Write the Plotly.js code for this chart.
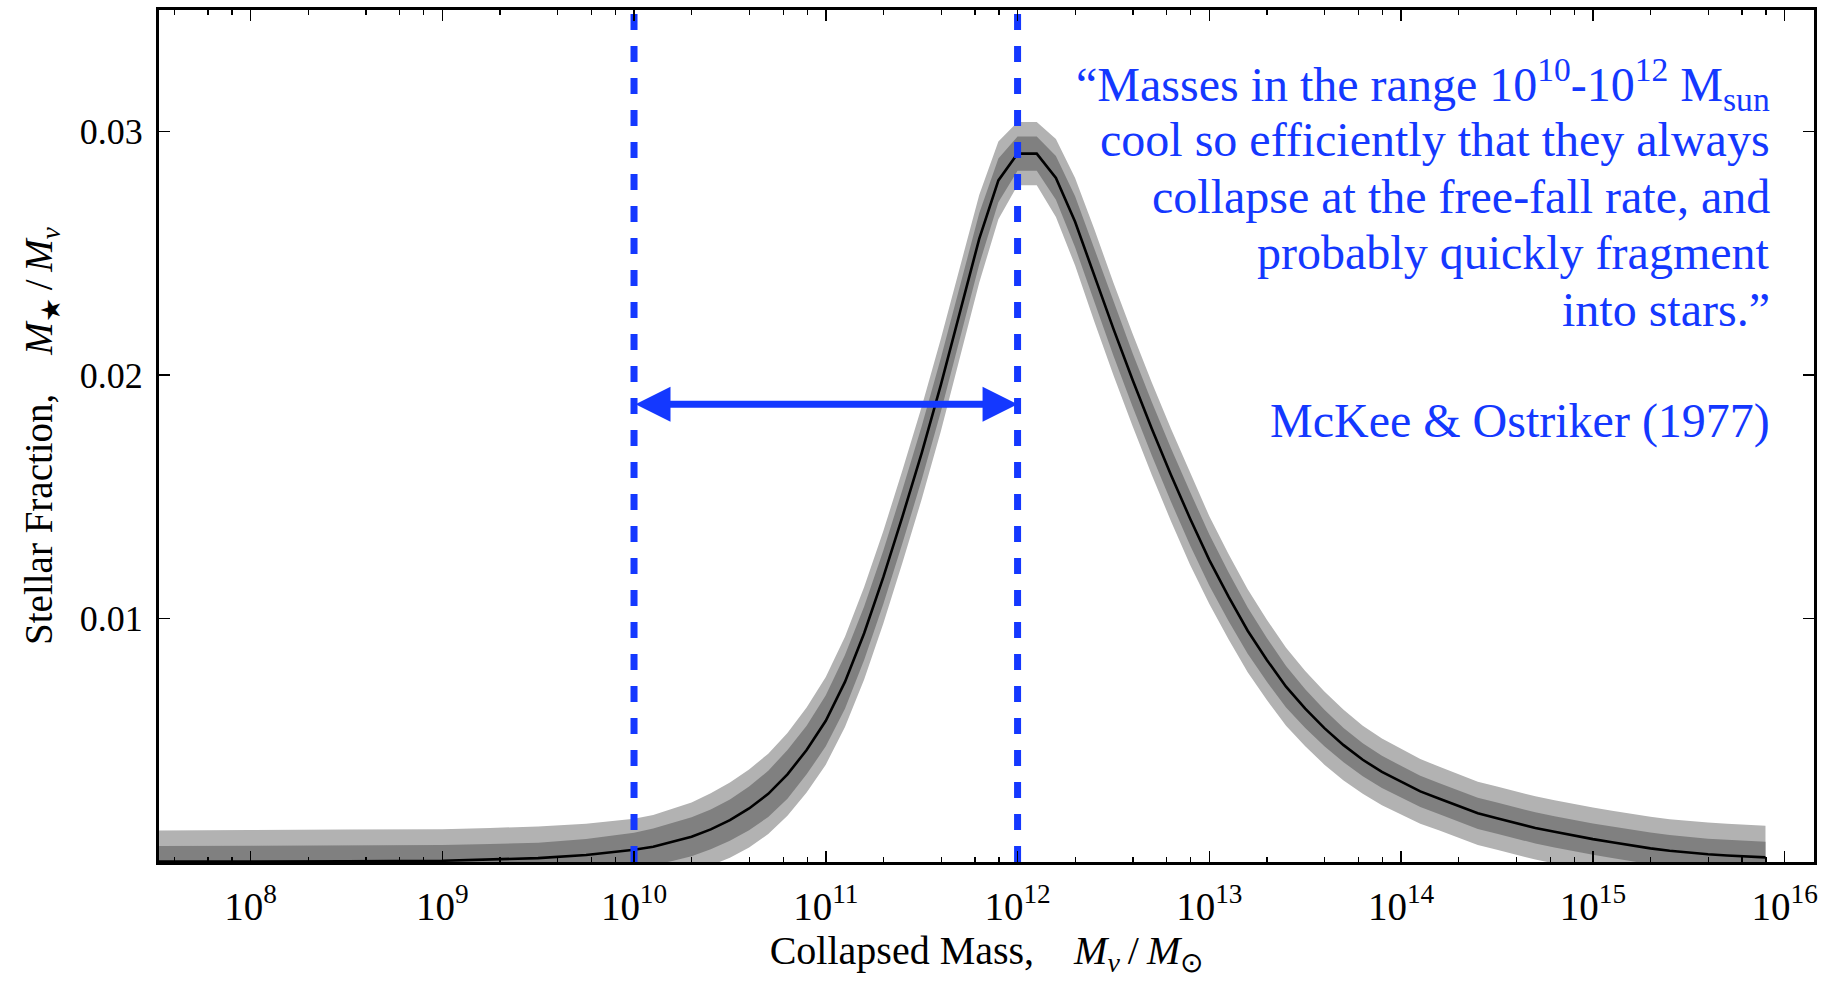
<!DOCTYPE html>
<html>
<head>
<meta charset="utf-8">
<script src="https://cdn.plot.ly/plotly-3.0.1.min.js"></script>
<style>
  html, body { margin: 0; padding: 0; background: #ffffff; }
  #chart { width: 1832px; height: 984px; }
</style>
</head>
<body>
<div id="chart"></div>
<script>
// Stellar fraction of collapsed haloes versus halo mass, with 1- and 2-sigma bands.
const logMass = [
  7.3, 7.6, 8.0, 8.5, 9.0, 9.25, 9.5, 9.75,
  10.0, 10.1, 10.2, 10.3, 10.4, 10.5, 10.6, 10.7, 10.8, 10.9,
  11.0, 11.1, 11.2, 11.3, 11.4, 11.5, 11.6, 11.7, 11.8, 11.9,
  12.0, 12.1, 12.2, 12.3, 12.4, 12.5, 12.6, 12.7, 12.8, 12.9,
  13.0, 13.1, 13.2, 13.3, 13.4, 13.5, 13.6, 13.7, 13.8, 13.9,
  14.0, 14.1, 14.2, 14.3, 14.4, 14.5, 14.6, 14.7, 14.8, 14.9,
  15.0, 15.1, 15.2, 15.3, 15.4, 15.5, 15.6, 15.7, 15.8, 15.9
];
const stellarFraction = [
  0.00001, 0.00001, 0.00002, 0.00003, 0.00005, 0.0001, 0.00016, 0.00029,
  0.0005, 0.00063, 0.00082, 0.00104, 0.00134, 0.00172, 0.0022, 0.0028, 0.0036, 0.0046,
  0.0058, 0.0074, 0.0094, 0.0117, 0.0142, 0.0168, 0.0196, 0.0226, 0.0256, 0.0280,
  0.0291, 0.0291, 0.0281, 0.0263, 0.0241, 0.0219, 0.0198, 0.0178, 0.0159, 0.0141,
  0.0124, 0.0109, 0.0095, 0.0083, 0.0072, 0.0063, 0.0055, 0.0048, 0.0042, 0.0037,
  0.0033, 0.0029, 0.0026, 0.0023, 0.0020, 0.0018, 0.0016, 0.0014, 0.00124, 0.00108,
  0.00094, 0.00081, 0.00068, 0.00056, 0.00046, 0.00038, 0.00032, 0.00027, 0.00023, 0.00019
];
// half-widths of the inner (1 sigma) and outer (2 sigma) bands
const innerHalfWidth = [
  0.00064, 0.00065, 0.00065, 0.00065, 0.00065, 0.00064, 0.00063, 0.00065,
  0.0007, 0.00075, 0.00078, 0.0008, 0.00082, 0.00085, 0.0009, 0.00095, 0.001, 0.001,
  0.00105, 0.0011, 0.0011, 0.0011, 0.0011, 0.0011, 0.0011, 0.0011, 0.00105, 0.0009,
  0.0007, 0.0007, 0.0009, 0.00105, 0.0011, 0.0011, 0.0011, 0.0011, 0.0011, 0.0011,
  0.00105, 0.001, 0.00095, 0.0009, 0.00085, 0.0008, 0.00075, 0.0007, 0.00068, 0.00066,
  0.00065, 0.00064, 0.00064, 0.00064, 0.00064, 0.00064, 0.00064, 0.00064, 0.00064, 0.00064,
  0.00064, 0.00065, 0.00065, 0.00065, 0.00065, 0.00064, 0.00064, 0.00064, 0.00064, 0.00064
];
const outerHalfWidth = [
  0.00128, 0.00128, 0.00129, 0.0013, 0.0013, 0.0013, 0.0013, 0.00128,
  0.00128, 0.0013, 0.00135, 0.0014, 0.00148, 0.00155, 0.0016, 0.00165, 0.0017, 0.00175,
  0.0018, 0.00185, 0.0019, 0.0019, 0.0019, 0.0019, 0.0019, 0.0019, 0.0018, 0.0016,
  0.0013, 0.0013, 0.0016, 0.0018, 0.0019, 0.0019, 0.0019, 0.0019, 0.0019, 0.0019,
  0.0018, 0.00175, 0.0017, 0.00165, 0.0016, 0.00155, 0.0015, 0.00145, 0.0014, 0.00137,
  0.00135, 0.00133, 0.00131, 0.0013, 0.0013, 0.0013, 0.0013, 0.0013, 0.0013, 0.0013,
  0.0013, 0.0013, 0.0013, 0.0013, 0.0013, 0.0013, 0.0013, 0.0013, 0.0013, 0.0013
];

const xTickExponents = [8, 9, 10, 11, 12, 13, 14, 15, 16];
const yTickValues = [0.01, 0.02, 0.03];
const yTickLabels = ['0.01', '0.02', '0.03'];
const xRangeLog = [7.523, 16.153];
const yRange = [0, 0.035];

// mass range singled out by McKee & Ostriker
const coolingRange = [1e10, 1e12];
const arrowLevel = 0.0188;

const quoteLines = [
  '\u201cMasses in the range 10<sup>10</sup>-10<sup>12</sup> M<sub>sun</sub>',
  'cool so efficiently that they always',
  'collapse at the free-fall rate, and',
  'probably quickly fragment',
  'into stars.\u201d'
];
const citation = 'McKee & Ostriker (1977)';

const SERIF = '"Liberation Serif", "Times New Roman", serif';
const BLUE = '#1438ff';
const LIGHT = '#b2b2b2';
const DARK = '#808080';

const mass = logMass.map(v => Math.pow(10, v));
const offset = (sign, half) => stellarFraction.map((f, i) => f + sign * half[i]);

const bandLine = { width: 0 };
const traces = [
  { x: mass, y: offset(-1, outerHalfWidth), mode: 'lines', line: bandLine, hoverinfo: 'skip' },
  { x: mass, y: offset(1, outerHalfWidth), mode: 'lines', line: bandLine, fill: 'tonexty', fillcolor: LIGHT, hoverinfo: 'skip' },
  { x: mass, y: offset(-1, innerHalfWidth), mode: 'lines', line: bandLine, hoverinfo: 'skip' },
  { x: mass, y: offset(1, innerHalfWidth), mode: 'lines', line: bandLine, fill: 'tonexty', fillcolor: DARK, hoverinfo: 'skip' },
  { x: mass, y: stellarFraction, mode: 'lines', line: { color: '#000000', width: 2.6 } }
];
coolingRange.forEach(m => {
  traces.push({
    x: [m, m], y: yRange, mode: 'lines',
    line: { color: BLUE, width: 7, dash: '16px,16px' }, hoverinfo: 'skip'
  });
});

// minor ticks at 2, 4, 6, 8 times each decade
const minorTicks = [];
for (let e = 7; e <= 16; e++) {
  [2, 4, 6, 8].forEach(k => minorTicks.push(k * Math.pow(10, e)));
}

const annotations = [
  {
    xref: 'x', yref: 'y', axref: 'x', ayref: 'y',
    x: Math.log10(coolingRange[1]), y: arrowLevel,
    ax: Math.log10(coolingRange[0]), ay: arrowLevel,
    text: '', showarrow: true,
    arrowside: 'end+start', arrowhead: 2, startarrowhead: 2,
    arrowsize: 1, startarrowsize: 1, arrowwidth: 7, arrowcolor: BLUE,
    standoff: 0, startstandoff: 0
  }
];
const quoteBaselines = [100, 156, 212.5, 268.5, 325];
const plotTop = 10, plotBottom = 862, plotH = plotBottom - plotTop;
const toPaperY = px => (plotBottom - px) / plotH;
quoteLines.forEach((t, i) => {
  annotations.push({
    xref: 'paper', yref: 'paper', x: 0.9746, y: toPaperY(quoteBaselines[i] - 16),
    xanchor: 'right', yanchor: 'middle', text: t, showarrow: false,
    font: { family: SERIF, size: 48, color: BLUE }
  });
});
annotations.push({
  xref: 'paper', yref: 'paper', x: 0.9746, y: toPaperY(437 - 16),
  xanchor: 'right', yanchor: 'middle', text: citation, showarrow: false,
  font: { family: SERIF, size: 48, color: BLUE }
});

const layout = {
  width: 1832, height: 984,
  margin: { l: 159, r: 18, t: plotTop, b: 984 - plotBottom, pad: 0 },
  paper_bgcolor: '#ffffff', plot_bgcolor: '#ffffff',
  font: { family: SERIF, color: '#000000' },
  showlegend: false,
  xaxis: {
    type: 'log', range: xRangeLog, autorange: false,
    showline: true, linecolor: '#000000', linewidth: 3, mirror: 'allticks',
    ticks: 'inside', ticklen: 11, tickwidth: 1.5, tickcolor: '#000000',
    tickmode: 'array',
    tickvals: xTickExponents.map(e => Math.pow(10, e)),
    ticktext: xTickExponents.map(e => '10<sup>' + e + '</sup>'),
    tickfont: { family: SERIF, size: 39, color: '#000000' },
    ticklabelstandoff: 8,
    minor: { tickmode: 'array', tickvals: minorTicks, ticks: 'inside', ticklen: 5, tickwidth: 1.3, tickcolor: '#000000', showgrid: false },
    showgrid: false, zeroline: false, automargin: false,
    title: {
      text: 'Collapsed Mass,\u00a0\u00a0\u00a0 <i>M<sub>v</sub></i>\u2009/\u2009<i>M</i><sub>\u2299</sub>',
      font: { family: SERIF, size: 40, color: '#000000' }, standoff: 8
    }
  },
  yaxis: {
    range: yRange, autorange: false,
    showline: true, linecolor: '#000000', linewidth: 3, mirror: 'allticks',
    ticks: 'inside', ticklen: 11, tickwidth: 1.5, tickcolor: '#000000',
    tickmode: 'array', tickvals: yTickValues, ticktext: yTickLabels,
    tickfont: { family: SERIF, size: 36, color: '#000000' },
    ticklabelstandoff: 6,
    showgrid: false, zeroline: false, automargin: false,
    title: {
      text: 'Stellar Fraction,\u00a0\u00a0\u00a0 <i>M</i><sub>\u2605</sub>\u2009/\u2009<i>M<sub>v</sub></i>',
      font: { family: SERIF, size: 39, color: '#000000' }, standoff: 16
    }
  },
  annotations: annotations
};

Plotly.newPlot('chart', traces, layout, { displayModeBar: false, staticPlot: true });
</script>
</body>
</html>
